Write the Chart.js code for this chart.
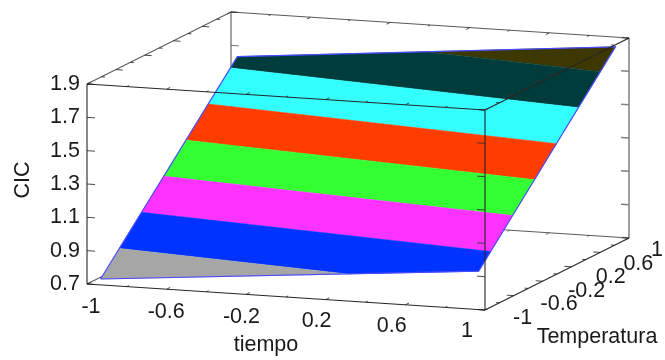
<!DOCTYPE html>
<html><head><meta charset="utf-8">
<style>html,body{margin:0;padding:0;background:#fff}canvas{display:block}</style>
<script src="https://cdn.jsdelivr.net/npm/chart.js@4"></script></head>
<body><canvas id="c" width="665" height="360"></canvas>
<script>
// ----- data -----
const tiempoLabels = [-1,-0.6,-0.2,0.2,0.6,1];
const temperaturaLabels = [-1,-0.6,-0.2,0.2,0.6,1];
const cicTicks = [0.7,0.9,1.1,1.3,1.5,1.7,1.9];
const axisMinorStep = [-1,-0.8,-0.6,-0.4,-0.2,0,0.2,0.4,0.6,0.8,1];
// surface corners: tiempo, temperatura, CIC
const surfaceTiempo = [-0.95,0.95];
const surfaceTemperatura = [-0.95,0.95];
const surfaceCIC = [[0.723,0.918],[1.647,1.854]]; // rows: temperatura, cols: tiempo
const bandLevels = [0.70,0.85,1.00,1.15,1.30,1.45,1.60,1.75,1.90];
const bandColors = ['#a6a6a6','#0033ff','#ff33ff','#33ff33','#ff3d00','#33ffff','#003c3c','#3d3800'];

// ----- oblique view of the box -----
const view = {left:87, tx:398, Tx:144, tz:0.156, Tz:0.432, zMin:0.7, zMax:1.9};
const proj = (t,T,z)=>{
  const a=(t+1)/2, b=(T+1)/2;
  return {x:view.left+view.tx*a+view.Tx*b, y:z-view.tz*a+view.Tz*b};
};
const seg = (p,q)=>[proj(...p),proj(...q),{x:NaN,y:NaN}];
const Z0=view.zMin, Z1=view.zMax;

function clip(poly,level,keepAbove){
  const out=[];
  for(let i=0;i<poly.length;i++){
    const p=poly[i],q=poly[(i+1)%poly.length];
    const pin=keepAbove?p[2]>=level:p[2]<=level, qin=keepAbove?q[2]>=level:q[2]<=level;
    if(pin) out.push(p);
    if(pin!==qin){const f=(level-p[2])/(q[2]-p[2]);out.push([p[0]+f*(q[0]-p[0]),p[1]+f*(q[1]-p[1]),level]);}
  }
  return out;
}
const [t0,t1]=surfaceTiempo,[T0,T1]=surfaceTemperatura;
const quad=[[t0,T0,surfaceCIC[0][0]],[t1,T0,surfaceCIC[0][1]],[t1,T1,surfaceCIC[1][1]],[t0,T1,surfaceCIC[1][0]]];

const line=(data,color,width)=>({data,borderColor:color,borderWidth:width,pointRadius:0,fill:false,spanGaps:false,clip:false,tension:0});

const zTick=0.04, tMajor=0.035, tMinor=0.018, TMajor=0.05, TMinor=0.03;

// back of the box
const backPts=[
  ...seg([-1,1,Z0],[-1,1,Z1]),...seg([-1,-1,Z0],[-1,1,Z0]),...seg([-1,1,Z0],[1,1,Z0]),
  ...seg([-1,-1,Z1],[-1,1,Z1]),...seg([-1,1,Z1],[1,1,Z1])
];
const backRight=seg([1,1,Z0],[1,1,Z1]);
const backTicks=[];
cicTicks.forEach(z=>{backTicks.push(...seg([-1,1,z],[-1+zTick,1,z]));backRight.push(...seg([1,1,z],[1-zTick,1,z]));});
axisMinorStep.forEach((v,i)=>{
  const m=i%2===0;
  backTicks.push(...seg([v,1,Z0],[v,1-(m?TMajor:TMinor),Z0]));
  backTicks.push(...seg([-1,v,Z0],[-1+(m?tMajor:tMinor),v,Z0]));
});

// front of the box
const frontPts=[
  ...seg([-1,-1,Z0],[-1,-1,Z1]),...seg([-1,-1,Z0],[1,-1,Z0]),...seg([1,-1,Z0],[1,-1,Z1]),
  ...seg([1,-1,Z0],[1,1,Z0]),...seg([-1,-1,Z1],[1,-1,Z1]),...seg([1,-1,Z1],[1,1,Z1])
];
const frontTicks=[];
cicTicks.forEach(z=>{frontTicks.push(...seg([-1,-1,z],[-1+zTick,-1,z]));frontTicks.push(...seg([1,-1,z],[1-zTick,-1,z]));});
axisMinorStep.forEach((v,i)=>{
  const m=i%2===0, l=m?TMajor:TMinor, w=m?tMajor:tMinor;
  frontTicks.push(...seg([v,-1,Z0],[v,-1+l,Z0]));
  frontTicks.push(...seg([v,-1,Z1],[v,-1+l,Z1]));
  frontTicks.push(...seg([v,1,Z1],[v,1-l,Z1]));
  frontTicks.push(...seg([-1,v,Z1],[-1+w,v,Z1]));
  frontTicks.push(...seg([1,v,Z0],[1-w,v,Z0]));
  frontTicks.push(...seg([1,v,Z1],[1-w,v,Z1]));
});

const bands=bandColors.map((color,i)=>{
  const poly=clip(clip(quad,bandLevels[i],true),bandLevels[i+1],false);
  const pts=poly.map(p=>proj(...p));
  return {data:pts,borderColor:color,backgroundColor:color,borderWidth:0.6,pointRadius:0,fill:'shape',clip:false,tension:0};
});
const outline=line([...quad,quad[0]].map(p=>proj(...p)),'#4a4aff',1.2);

// first dataset is painted last
const datasets=[line(frontPts,'#262626',1.1),line(frontTicks,'#333333',0.9),outline,...bands,
  line(backRight,'#808080',1.5),line(backPts,'#5a5a5a',1.1),line(backTicks,'#666666',0.9)];

const textFont='"Liberation Sans", Arial, sans-serif';
const fontSize=21.5;
const layoutText={
  tiempo:{x0:91,dx:188,y0:307,dy:12},
  temperatura:{x0:513,dx:69,y0:318,dy:-34},
  tiempoTitle:{x:266,y:345},
  temperaturaTitle:{x:597,y:337}
};
const textPlugin={id:'obliqueText',afterDraw(ch){
  const c=ch.ctx;c.save();c.fillStyle='#1a1a1a';c.font=fontSize+'px '+textFont;c.textBaseline='middle';
  c.textAlign='center';
  tiempoLabels.forEach(v=>c.fillText(String(v),layoutText.tiempo.x0+(v+1)*layoutText.tiempo.dx,layoutText.tiempo.y0+(v+1)*layoutText.tiempo.dy));
  c.fillText('tiempo',layoutText.tiempoTitle.x,layoutText.tiempoTitle.y);
  c.fillText('Temperatura',layoutText.temperaturaTitle.x,layoutText.temperaturaTitle.y);
  c.textAlign='left';
  temperaturaLabels.forEach(v=>c.fillText(String(v),layoutText.temperatura.x0+(v+1)*layoutText.temperatura.dx,layoutText.temperatura.y0+(v+1)*layoutText.temperatura.dy));
  c.restore();
}};

new Chart(document.getElementById('c'),{
  type:'line',
  data:{datasets},
  plugins:[textPlugin],
  options:{
    responsive:false,animation:false,
    layout:{padding:0},
    plugins:{legend:{display:false},tooltip:{enabled:false},title:{display:false}},
    scales:{
      x:{type:'linear',display:false,min:87,max:665},
      y:{type:'linear',min:0.244,max:2.404,
        afterBuildTicks:s=>{s.ticks=cicTicks.map(value=>({value}));},
        afterFit:s=>{s.width=87;s.paddingTop=0;s.paddingBottom=0;s.paddingLeft=0;s.paddingRight=0;},
        grid:{display:false,drawTicks:false},border:{display:false},
        ticks:{padding:7,color:'#1a1a1a',font:{family:textFont,size:fontSize},callback:v=>v.toFixed(1),autoSkip:false},
        title:{display:true,text:'CIC',color:'#1a1a1a',font:{family:textFont,size:fontSize},padding:{top:10,bottom:0}}
      }
    }
  }
});
</script></body></html>
